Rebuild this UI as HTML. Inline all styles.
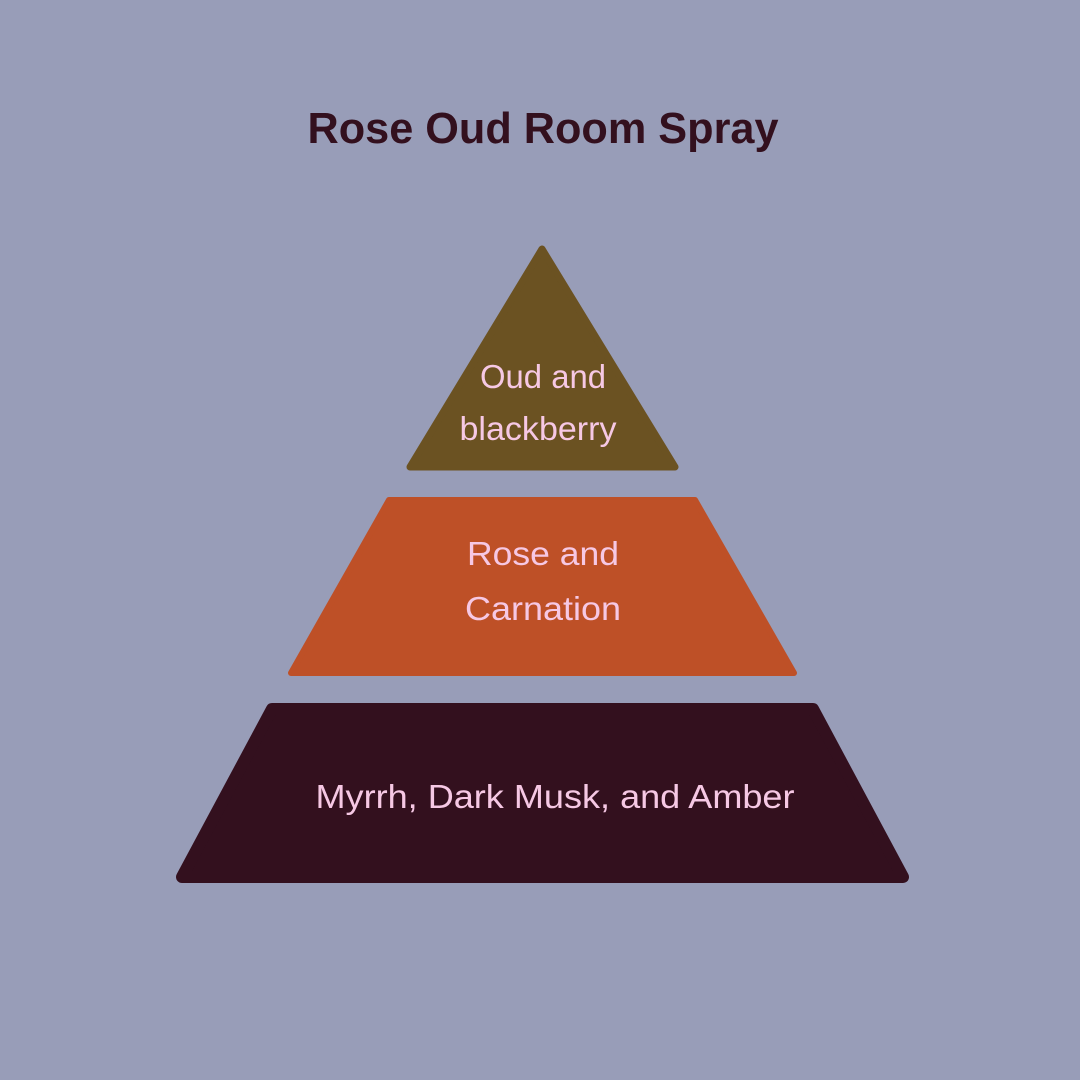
<!DOCTYPE html>
<html><head><meta charset="utf-8"><style>
html,body{margin:0;padding:0;background:#989db8;}
svg{display:block;}
</style></head><body>
<svg width="1080" height="1080" viewBox="0 0 1080 1080" xmlns="http://www.w3.org/2000/svg">
<rect width="1080" height="1080" fill="#989db8"/>
<text x="543" y="143" text-anchor="middle" font-family="Liberation Sans, sans-serif" font-weight="bold" font-size="44" fill="#33101e" textLength="471" lengthAdjust="spacingAndGlyphs">Rose Oud Room Spray</text>
<polygon points="542,249 675,467 410,467" fill="#6b5222" stroke="#6b5222" stroke-width="7" stroke-linejoin="round"/>
<polygon points="389,500 695,500 794,673 291,673" fill="#be5027" stroke="#be5027" stroke-width="6" stroke-linejoin="round"/>
<polygon points="272,709 813,709 903,877 182,877" fill="#33101e" stroke="#33101e" stroke-width="12" stroke-linejoin="round"/>
<g font-family="Liberation Sans, sans-serif" font-size="33" fill="#f6c8e4" text-anchor="middle">
<text x="543" y="388" textLength="126" lengthAdjust="spacingAndGlyphs">Oud and</text>
<text x="538" y="440" textLength="157" lengthAdjust="spacingAndGlyphs">blackberry</text>
<text x="543" y="565" textLength="152" lengthAdjust="spacingAndGlyphs">Rose and</text>
<text x="543" y="620" textLength="156" lengthAdjust="spacingAndGlyphs">Carnation</text>
<text x="555" y="808" textLength="479" lengthAdjust="spacingAndGlyphs">Myrrh, Dark Musk, and Amber</text>
</g>
</svg>
</body></html>
